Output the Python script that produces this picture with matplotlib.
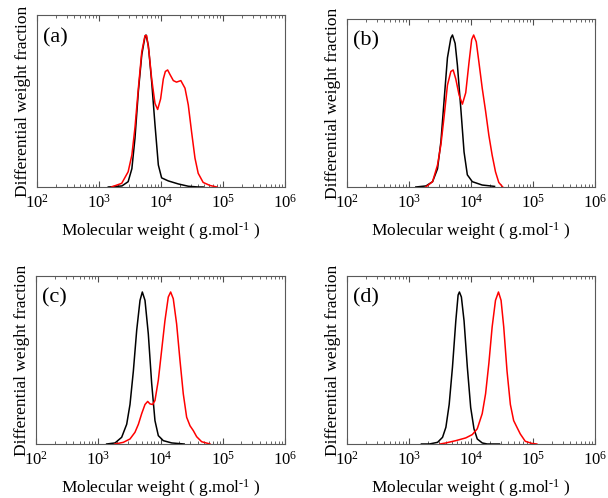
import numpy as np
import matplotlib
matplotlib.use('Agg')
import matplotlib.pyplot as plt
from matplotlib.ticker import LogLocator, NullLocator

plt.rcParams['font.family'] = ['Liberation Serif', 'DejaVu Serif']
plt.rcParams['mathtext.fontset'] = 'custom'
plt.rcParams['mathtext.rm'] = 'Liberation Serif'
plt.rcParams['mathtext.it'] = 'Liberation Serif:italic'
plt.rcParams['axes.unicode_minus'] = False

# log10(M) and normalised w(logM)
a_black_x = [3.15, 3.37, 3.47, 3.53, 3.58, 3.635, 3.69, 3.742, 3.758, 3.796, 3.85, 3.903, 3.957, 4.01, 4.118, 4.28, 4.44, 4.6, 4.68]
a_black_y = [0.0, 0.007, 0.035, 0.12, 0.32, 0.63, 0.87, 0.99, 1.0, 0.93, 0.69, 0.41, 0.145, 0.06, 0.04, 0.02, 0.005, 0.0, 0.0]
a_red_x = [3.2, 3.366, 3.47, 3.53, 3.58, 3.635, 3.69, 3.742, 3.769, 3.806, 3.85, 3.903, 3.946, 3.994, 4.037, 4.07, 4.107, 4.145, 4.199, 4.25, 4.32, 4.387, 4.44, 4.494, 4.548, 4.6, 4.68, 4.79, 4.9]
a_red_y = [0.0, 0.024, 0.10, 0.21, 0.39, 0.65, 0.89, 0.996, 0.996, 0.89, 0.71, 0.55, 0.51, 0.58, 0.71, 0.76, 0.77, 0.74, 0.70, 0.69, 0.70, 0.65, 0.54, 0.36, 0.19, 0.09, 0.03, 0.01, 0.0]

b_black_x = [3.11, 3.274, 3.38, 3.46, 3.515, 3.568, 3.62, 3.675, 3.701, 3.744, 3.781, 3.835, 3.888, 3.941, 4.021, 4.18, 4.38]
b_black_y = [0.0, 0.007, 0.035, 0.12, 0.30, 0.58, 0.85, 0.98, 1.0, 0.945, 0.80, 0.52, 0.23, 0.08, 0.035, 0.013, 0.004]
b_red_x = [3.27, 3.38, 3.46, 3.515, 3.568, 3.62, 3.675, 3.712, 3.755, 3.808, 3.861, 3.915, 3.968, 4.011, 4.043, 4.085, 4.128, 4.181, 4.235, 4.288, 4.341, 4.395, 4.448, 4.512]
b_red_y = [0.0, 0.035, 0.145, 0.28, 0.47, 0.67, 0.76, 0.77, 0.71, 0.605, 0.545, 0.62, 0.82, 0.97, 1.0, 0.955, 0.82, 0.65, 0.50, 0.34, 0.21, 0.10, 0.03, 0.0]

c_black_x = [3.135, 3.27, 3.376, 3.457, 3.51, 3.564, 3.618, 3.671, 3.708, 3.751, 3.804, 3.858, 3.911, 3.965, 4.045, 4.18, 4.38]
c_black_y = [0.0, 0.007, 0.044, 0.13, 0.26, 0.48, 0.75, 0.945, 1.0, 0.945, 0.725, 0.40, 0.154, 0.055, 0.022, 0.007, 0.0]
c_red_x = [3.27, 3.403, 3.51, 3.59, 3.645, 3.698, 3.751, 3.794, 3.83, 3.874, 3.911, 3.965, 4.018, 4.071, 4.125, 4.163, 4.205, 4.259, 4.313, 4.366, 4.42, 4.474, 4.527, 4.581, 4.661, 4.795]
c_red_y = [0.0, 0.011, 0.033, 0.077, 0.13, 0.20, 0.26, 0.28, 0.264, 0.26, 0.286, 0.42, 0.615, 0.81, 0.967, 1.0, 0.956, 0.79, 0.55, 0.33, 0.176, 0.12, 0.088, 0.048, 0.015, 0.0]

d_black_x = [3.2, 3.328, 3.461, 3.541, 3.595, 3.648, 3.701, 3.755, 3.792, 3.813, 3.845, 3.888, 3.941, 3.995, 4.048, 4.101, 4.181, 4.261, 4.46]
d_black_y = [0.0, 0.0, 0.011, 0.044, 0.11, 0.26, 0.505, 0.81, 0.98, 1.0, 0.967, 0.81, 0.505, 0.24, 0.10, 0.033, 0.007, 0.0, 0.0]
d_red_x = [3.5, 3.595, 3.755, 3.915, 4.021, 4.101, 4.181, 4.235, 4.288, 4.341, 4.395, 4.443, 4.485, 4.528, 4.581, 4.635, 4.688, 4.741, 4.795, 4.875, 4.981, 5.061]
d_red_y = [0.0, 0.007, 0.022, 0.04, 0.062, 0.10, 0.20, 0.33, 0.53, 0.77, 0.945, 1.0, 0.945, 0.77, 0.48, 0.26, 0.154, 0.11, 0.066, 0.018, 0.004, 0.0]

panels = [
    ('(a)', a_black_x, a_black_y, a_red_x, a_red_y),
    ('(b)', b_black_x, b_black_y, b_red_x, b_red_y),
    ('(c)', c_black_x, c_black_y, c_red_x, c_red_y),
    ('(d)', d_black_x, d_black_y, d_red_x, d_red_y),
]

# axes boxes in pixels: left, top, right, bottom
boxes = [(37, 15, 285, 187), (347, 19, 595, 187), (36, 276, 285, 444), (347, 276, 595, 444)]

W, H = 608, 498
fig = plt.figure(figsize=(W / 100, H / 100), dpi=100)

for (lab, bx, by, rx, ry), (l, t, r, b) in zip(panels, boxes):
    ax = fig.add_axes([l / W, 1 - b / H, (r - l) / W, (b - t) / H])
    ax.plot(10 ** np.array(bx), by, color='black', lw=1.1)
    ax.plot(10 ** np.array(rx), ry, color='red', lw=1.1)
    ax.set_xscale('log')
    ax.set_xlim(1e2, 1e6)
    ax.set_ylim(0, (b - t) / 152.0)
    ax.xaxis.set_major_locator(LogLocator(base=10, numticks=10))
    ax.xaxis.set_minor_locator(LogLocator(base=10, subs=np.arange(2, 10), numticks=10))
    ax.yaxis.set_major_locator(NullLocator())
    ax.tick_params(axis='x', which='both', direction='in', top=True, labelsize=12, pad=5, colors='0.3', labelcolor='black')
    ax.tick_params(axis='x', which='major', length=4)
    ax.tick_params(axis='x', which='minor', length=2.5)
    for s in ax.spines.values():
        s.set_color('0.35')
        s.set_linewidth(0.8)
    ax.set_xlabel('Molecular weight ( g.mol$^{\\text{-}1}$ )', fontsize=12.5, labelpad=6)
    ax.set_ylabel('Differential weight fraction', fontsize=12.5, labelpad=4)
    ax.text(0.025, 0.87, lab, transform=ax.transAxes, fontsize=16, va='center', ha='left')

fig.savefig('out.png', dpi=100)
